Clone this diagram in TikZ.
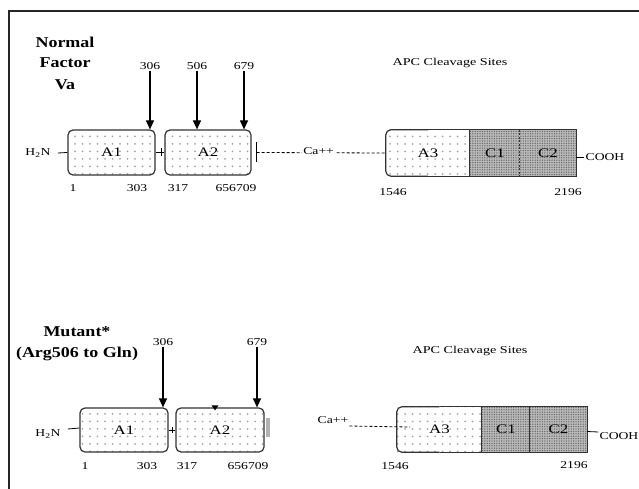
\documentclass[tikz,border=0pt]{standalone}
\usepackage{fontspec}
\setmainfont{Liberation Serif}
\usepackage{graphicx}
\usetikzlibrary{patterns.meta,arrows.meta,calc}
\newcommand{\wx}[1]{\scalebox{1.3}[1]{#1}}
\newcommand{\tx}[1]{\scalebox{1.2}[1]{#1}}
\begin{document}
\begin{tikzpicture}[x=1pt,y=-1pt,
  bord/.style={draw=black!80, line width=1.2pt},
  dom/.style={bord, rounded corners=5pt, inner sep=0pt,
    pattern={Dots[distance=7.5pt,radius=1pt]}, pattern color=black!35,
    font=\fontsize{13}{14}\selectfont},
  adom/.style={inner sep=0pt, pattern={Dots[distance=7.5pt,radius=1pt]},
    pattern color=black!35, font=\fontsize{13}{14}\selectfont},
  cdom/.style={inner sep=0pt, fill=gray!55,
    postaction={pattern={Dots[distance=2.4pt,radius=0.7pt]}, pattern color=black!60},
    font=\fontsize{13}{14}\selectfont},
  num/.style={font=\fontsize{10.5}{11}\selectfont, inner sep=1pt},
  ttl/.style={font=\fontsize{15}{17}\selectfont\bfseries, inner sep=0pt},
  arr/.style={line width=1.2pt, -{Triangle[width=8pt,length=9pt]}},
  conn/.style={line width=0.8pt},
  dashline/.style={line width=0.8pt, dash pattern=on 3pt off 2pt}]
\useasboundingbox (0,0) rectangle (639,489);
% frame
\coordinate (f1) at (639,11);
\coordinate (f2) at (9,11);
\coordinate (f3) at (9,489);
\draw[line width=1.3pt, black!85] (f1) -- (f2) -- (f3);

% ---------------- top: normal factor Va ----------------
\node[ttl] (t1) at (65,42) {\tx{Normal}};
\node[ttl] (t2) at (65,63) {\tx{Factor}};
\node[ttl] (t3) at (65,85) {\tx{Va}};
\node[num] (apc1) at (450,63) {\scalebox{1.35}[1]{APC Cleavage Sites}};

\node[dom, minimum width=87pt, minimum height=45pt] (A1) at (111.5,152.5) {\wx{A1}};
\node[dom, minimum width=86pt, minimum height=45pt] (A2) at (208,152.5) {\wx{A2}};
\node[adom, minimum width=84pt, minimum height=46pt] (A3) at (428,153) {\wx{A3}};
\node[cdom, minimum width=50pt, minimum height=46pt] (C1) at (495,153) {\wx{C1}};
\node[cdom, minimum width=56pt, minimum height=46pt] (C2) at (548,153) {\wx{C2}};
\draw[bord, rounded corners=5pt] (A3.north) -- (A3.north west) -- (A3.south west) -- (A3.south);
\draw[bord] (A3.north) -- (C2.north east) -- (C2.south east) -- (A3.south);
\draw[bord] (C1.north west) -- (C1.south west);
\draw[bord, dash pattern=on 2pt off 1.5pt] (C2.north west) -- (C2.south west);

% cleavage arrows
\node[num] (p1) at (150,66) {\wx{306}};
\node[num] (p2) at (197,66) {\wx{506}};
\node[num] (p3) at (244,66) {\wx{679}};
\draw[arr] (p1.south) -- (p1.south |- A1.north);
\draw[arr] (p2.south) -- (p2.south |- A2.north);
\draw[arr] (p3.south) -- (p3.south |- A2.north);

% termini and linkers
\node[num] (N1) at (38,153) {\wx{H\textsubscript{2}N}};
\draw[conn] ($(N1.east)+(6,0)$) -- (A1.west);
\draw[conn] (A1.east) -- (A2.west);
\draw[conn] ($(A1.east)!0.7!(A2.west)+(0,-4)$) -- ($(A1.east)!0.7!(A2.west)+(0,4)$);
\coordinate (k1) at ($(A2.east)+(5,0)$);
\draw[conn] ($(k1)+(0,-10)$) -- ($(k1)+(0,10)$);
\draw[dashline] (k1) -- node[num, fill=white, pos=0.48, yshift=2pt] (ca1) {\wx{Ca++}} (A3.west);
\node[num] (E1) at (605,157) {\wx{COOH}};
\draw[conn] (C2.east |- E1.west) -- (E1.west);

% residue numbers
\node[num] (n1) at (73,188) {\wx{1}};
\node[num] (n2) at (137,188) {\wx{303}};
\node[num] (n3) at (178,188) {\wx{317}};
\node[num] (n4) at (236,188) {\wx{656709}};
\node[num] (n5) at (393,192) {\wx{1546}};
\node[num] (n6) at (568,192) {\wx{2196}};

% ---------------- bottom: mutant ----------------
\node[ttl] (m1) at (77,332) {\tx{Mutant*}};
\node[ttl] (m2) at (77,354) {\tx{(Arg506 to Gln)}};
\node[num] (apc2) at (470,351) {\scalebox{1.35}[1]{APC Cleavage Sites}};

\node[dom, minimum width=88pt, minimum height=44pt] (B1) at (124,430) {\wx{A1}};
\node[dom, minimum width=88pt, minimum height=44pt] (B2) at (220,430) {\wx{A2}};
\node[adom, minimum width=85pt, minimum height=45pt] (B3) at (439.5,429.5) {\wx{A3}};
\node[cdom, minimum width=48pt, minimum height=45pt] (D1) at (506,429.5) {\wx{C1}};
\node[cdom, minimum width=57pt, minimum height=45pt] (D2) at (558.5,429.5) {\wx{C2}};
\draw[bord, rounded corners=5pt] (B3.north) -- (B3.north west) -- (B3.south west) -- (B3.south);
\draw[bord] (B3.north) -- (D2.north east) -- (D2.south east) -- (B3.south);
\draw[bord] (D1.north west) -- (D1.south west);
\draw[bord] (D2.north west) -- (D2.south west);

\node[num] (q1) at (163,342) {\wx{306}};
\node[num] (q3) at (257,342) {\wx{679}};
\draw[arr] (q1.south) -- (q1.south |- B1.north);
\draw[arr] (q3.south) -- (q3.south |- B2.north);
\coordinate (m5) at (215,0 |- B2.north);
\fill ($(m5)+(0,3)$) -- ($(m5)+(-3.5,-2)$) -- ($(m5)+(3.5,-2)$) -- cycle;
\fill[gray!60] ($(B2.east)+(1,-12)$) rectangle ($(B2.east)+(5,7)$);

\node[num] (N2) at (48,434) {\wx{H\textsubscript{2}N}};
\draw[conn] ($(N2.east)+(6,-5)$) -- ($(B1.west)+(0,-2)$);
\draw[conn] (B1.east) -- (B2.west);
\draw[conn] ($(B1.east)!0.5!(B2.west)+(0,-3)$) -- ($(B1.east)!0.5!(B2.west)+(0,3)$);
\node[num] (ca2) at (333,420) {\wx{Ca++}};
\draw[dashline] ($(ca2.east)+(0,6)$) -- ($(B3.west)+(13,-2.5)$);
\node[num] (E2) at (619,436) {\wx{COOH}};
\draw[conn] ($(D2.east)+(0,2)$) -- ($(E2.west)+(0,-4)$);

\node[num] (r1) at (85,466) {\wx{1}};
\node[num] (r2) at (147,466) {\wx{303}};
\node[num] (r3) at (187,466) {\wx{317}};
\node[num] (r4) at (248,466) {\wx{656709}};
\node[num] (r5) at (395,466) {\wx{1546}};
\node[num] (r6) at (574,465) {\wx{2196}};
\end{tikzpicture}
\end{document}
